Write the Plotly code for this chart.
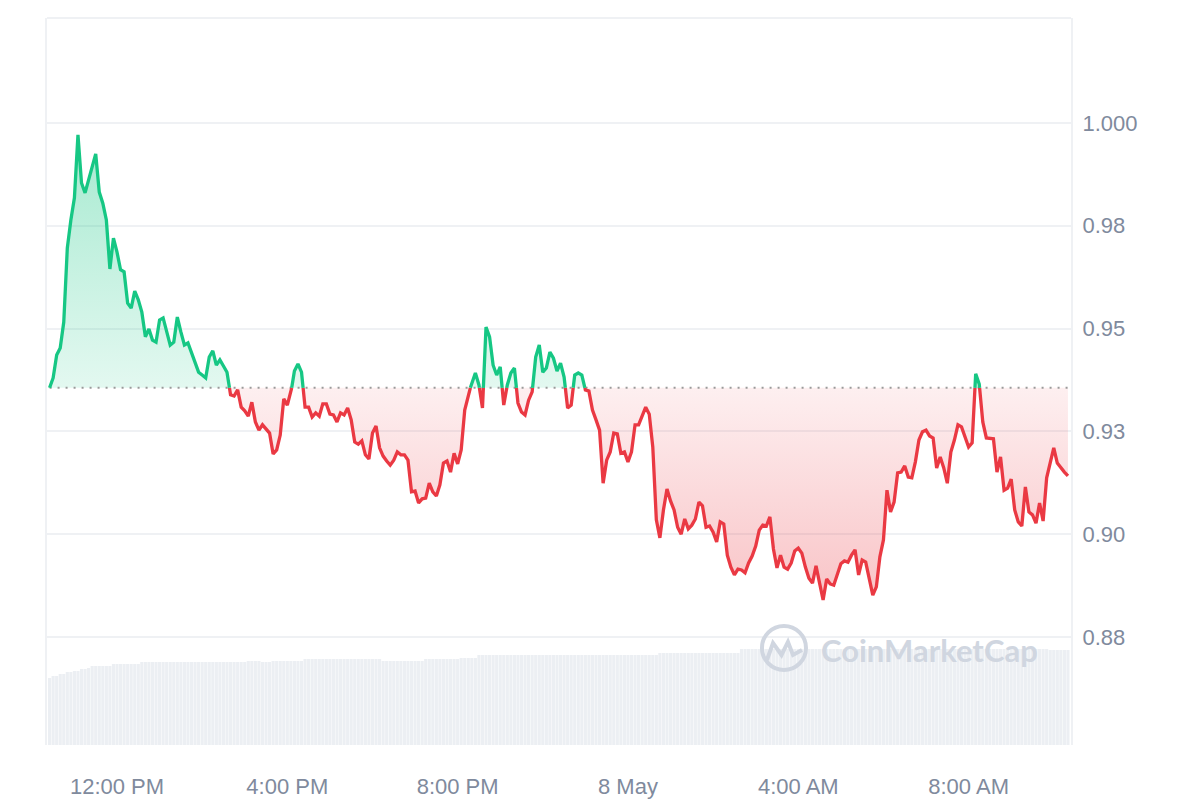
import numpy as np
import pandas as pd
import plotly.graph_objects as go

# 5-minute prices, 7 May 10:25 -> 8 May 10:20
price = [
    0.9356, 0.9380, 0.9436, 0.9453, 0.9516, 0.9696, 0.9764, 0.9818, 0.9971, 0.9854, 0.9830, 0.9861,
    0.9893, 0.9925, 0.9832, 0.9805, 0.9764, 0.9645, 0.9720, 0.9686, 0.9643, 0.9638, 0.9562, 0.9550,
    0.9591, 0.9570, 0.9540, 0.9480, 0.9499, 0.9472, 0.9467, 0.9521, 0.9526, 0.9492, 0.9460, 0.9467,
    0.9528, 0.9492, 0.9460, 0.9465, 0.9443, 0.9419, 0.9394, 0.9387, 0.9380, 0.9431, 0.9446, 0.9411,
    0.9424, 0.9409, 0.9394, 0.9339, 0.9336, 0.9351, 0.9309, 0.9300, 0.9287, 0.9321, 0.9273, 0.9253,
    0.9266, 0.9256, 0.9246, 0.9195, 0.9205, 0.9241, 0.9329, 0.9314, 0.9343, 0.9397, 0.9414, 0.9394,
    0.9309, 0.9309, 0.9285, 0.9295, 0.9287, 0.9317, 0.9317, 0.9292, 0.9290, 0.9273, 0.9295, 0.9290,
    0.9307, 0.9278, 0.9224, 0.9219, 0.9227, 0.9193, 0.9183, 0.9246, 0.9263, 0.9210, 0.9190, 0.9178,
    0.9168, 0.9180, 0.9200, 0.9193, 0.9193, 0.9180, 0.9103, 0.9105, 0.9076, 0.9086, 0.9088, 0.9124,
    0.9103, 0.9093, 0.9120, 0.9173, 0.9178, 0.9151, 0.9197, 0.9171, 0.9205, 0.9302, 0.9339, 0.9368,
    0.9392, 0.9363, 0.9307, 0.9504, 0.9480, 0.9411, 0.9387, 0.9407, 0.9314, 0.9363, 0.9392, 0.9404,
    0.9319, 0.9297, 0.9290, 0.9326, 0.9346, 0.9431, 0.9460, 0.9394, 0.9404, 0.9443, 0.9428, 0.9397,
    0.9416, 0.9382, 0.9307, 0.9314, 0.9387, 0.9392, 0.9387, 0.9351, 0.9348, 0.9302, 0.9278, 0.9253,
    0.9124, 0.9180, 0.9200, 0.9246, 0.9244, 0.9197, 0.9200, 0.9176, 0.9200, 0.9266, 0.9266, 0.9290,
    0.9309, 0.9292, 0.9212, 0.9035, 0.8991, 0.9059, 0.9110, 0.9081, 0.9059, 0.9017, 0.9000, 0.9037,
    0.9013, 0.9022, 0.9037, 0.9078, 0.9069, 0.9017, 0.9020, 0.9005, 0.8981, 0.9030, 0.9025, 0.8949,
    0.8920, 0.8901, 0.8915, 0.8913, 0.8906, 0.8930, 0.8947, 0.8971, 0.9010, 0.9022, 0.9020, 0.9042,
    0.8964, 0.8918, 0.8949, 0.8920, 0.8915, 0.8930, 0.8959, 0.8966, 0.8954, 0.8920, 0.8893, 0.8881,
    0.8923, 0.8881, 0.8840, 0.8891, 0.8879, 0.8876, 0.8901, 0.8928, 0.8935, 0.8932, 0.8949, 0.8962,
    0.8901, 0.8937, 0.8932, 0.8889, 0.8852, 0.8872, 0.8945, 0.8986, 0.9107, 0.9054, 0.9078, 0.9149,
    0.9151, 0.9166, 0.9139, 0.9137, 0.9176, 0.9229, 0.9249, 0.9253, 0.9239, 0.9234, 0.9161, 0.9188,
    0.9161, 0.9124, 0.9200, 0.9229, 0.9266, 0.9261, 0.9236, 0.9212, 0.9222, 0.9390, 0.9365, 0.9273,
    0.9234, 0.9234, 0.9232, 0.9151, 0.9188, 0.9107, 0.9112, 0.9134, 0.9059, 0.9030, 0.9020, 0.9115,
    0.9054, 0.9047, 0.9027, 0.9076, 0.9032, 0.9137, 0.9173, 0.9210, 0.9173, 0.9161, 0.9151, 0.9142,
]

# 24h volume ($M), same timestamps
volume = [
    6.7, 6.9, 6.9, 7.1, 7.1, 7.3, 7.3, 7.4, 7.4, 7.6, 7.6, 7.7,
    7.9, 7.9, 7.9, 7.9, 7.9, 7.9, 8.1, 8.1, 8.1, 8.1, 8.1, 8.1,
    8.1, 8.1, 8.3, 8.3, 8.3, 8.3, 8.3, 8.3, 8.3, 8.3, 8.3, 8.3,
    8.3, 8.3, 8.3, 8.3, 8.3, 8.3, 8.3, 8.3, 8.3, 8.3, 8.3, 8.3,
    8.3, 8.3, 8.3, 8.3, 8.3, 8.3, 8.3, 8.3, 8.4, 8.4, 8.4, 8.4,
    8.3, 8.3, 8.3, 8.4, 8.4, 8.4, 8.4, 8.4, 8.4, 8.4, 8.4, 8.4,
    8.6, 8.6, 8.6, 8.6, 8.6, 8.6, 8.6, 8.6, 8.6, 8.6, 8.6, 8.6,
    8.6, 8.6, 8.6, 8.6, 8.6, 8.6, 8.6, 8.6, 8.6, 8.6, 8.4, 8.4,
    8.4, 8.4, 8.4, 8.4, 8.4, 8.4, 8.4, 8.4, 8.4, 8.4, 8.6, 8.6,
    8.6, 8.6, 8.6, 8.6, 8.6, 8.6, 8.6, 8.6, 8.7, 8.7, 8.7, 8.7,
    8.7, 9.0, 9.0, 9.0, 9.0, 9.0, 9.0, 9.0, 9.0, 9.0, 9.0, 9.0,
    9.0, 9.0, 9.0, 9.0, 9.0, 9.0, 9.0, 9.0, 9.0, 9.0, 9.0, 9.0,
    9.0, 9.0, 9.0, 9.0, 9.0, 9.0, 9.0, 9.0, 9.0, 9.0, 9.0, 9.0,
    9.0, 9.0, 9.0, 9.0, 9.0, 9.0, 9.0, 9.0, 9.0, 9.0, 9.0, 9.0,
    9.0, 9.0, 9.0, 9.0, 9.2, 9.2, 9.2, 9.2, 9.2, 9.2, 9.2, 9.2,
    9.2, 9.2, 9.2, 9.2, 9.2, 9.2, 9.2, 9.2, 9.2, 9.2, 9.2, 9.2,
    9.2, 9.2, 9.2, 9.6, 9.6, 9.6, 9.6, 9.6, 9.6, 9.6, 9.6, 9.6,
    9.6, 9.6, 9.6, 9.6, 9.6, 9.6, 9.6, 9.6, 9.6, 9.6, 9.6, 9.6,
    9.6, 9.6, 9.6, 9.6, 9.6, 9.6, 9.6, 9.6, 9.6, 9.6, 9.6, 9.6,
    9.6, 9.6, 9.6, 9.6, 9.6, 9.6, 9.6, 9.6, 9.6, 9.6, 9.6, 9.6,
    9.6, 9.6, 9.6, 9.6, 9.6, 9.6, 9.6, 9.6, 9.6, 9.6, 9.6, 9.6,
    9.6, 9.6, 9.6, 9.6, 9.6, 9.6, 9.6, 9.6, 9.6, 9.6, 9.6, 9.6,
    9.6, 9.6, 9.6, 9.6, 9.6, 9.6, 9.6, 9.6, 9.6, 9.6, 9.6, 9.6,
    9.6, 9.6, 9.6, 9.6, 9.6, 9.6, 9.5, 9.5, 9.5, 9.5, 9.5, 9.5,
]

tick_times = ["2024-05-07 12:00", "2024-05-07 16:00", "2024-05-07 20:00",
              "2024-05-08 00:00", "2024-05-08 04:00", "2024-05-08 08:00"]
tick_labels = ["12:00 PM", "4:00 PM", "8:00 PM", "8 May", "4:00 AM", "8:00 AM"]
y_ticks = [0.875, 0.9, 0.925, 0.95, 0.975, 1.0]
y_tick_labels = ["0.88", "0.90", "0.93", "0.95", "0.98", "1.000"]

GREEN = "#16c784"
RED = "#ea3943"
GREY = "#808a9d"
FAINT = "#eff1f4"
FONT = "Liberation Sans, Arial, sans-serif"

times = pd.date_range("2024-05-07 10:25", periods=len(price), freq="5min")
base = price[0]


def split_at_base(ts, ys, level):
    # add a point wherever the line crosses the open price
    tn = ts.asi8.astype(float)
    xs, out = [tn[0]], [ys[0]]
    for i in range(1, len(ys)):
        a, b = ys[i - 1] - level, ys[i] - level
        if a * b < 0:
            f = a / (a - b)
            xs.append(tn[i - 1] + f * (tn[i] - tn[i - 1]))
            out.append(level)
        xs.append(tn[i])
        out.append(ys[i])
    return pd.to_datetime(np.array(xs).astype("int64")), np.array(out)


x_all, y_all = split_at_base(times, price, base)
y_up = np.maximum(y_all, base)
y_dn = np.minimum(y_all, base)
line_up = [v if v >= base else None for v in y_all]
line_dn = [v if v <= base else None for v in y_all]
base_line = [base] * len(x_all)

fig = go.Figure()

fig.add_trace(go.Bar(x=times, y=volume, yaxis="y2",
                     marker=dict(color="#eceff3", line_width=0), hoverinfo="skip"))

fig.add_trace(go.Scatter(x=x_all, y=base_line, mode="lines", line=dict(width=0), hoverinfo="skip"))
fig.add_trace(go.Scatter(
    x=x_all, y=y_up, mode="lines", line=dict(width=0), fill="tonexty",
    fillgradient=dict(type="vertical",
                      colorscale=[[0, "rgba(22,199,132,0.12)"], [1, "rgba(22,199,132,0.38)"]]),
    hoverinfo="skip"))
fig.add_trace(go.Scatter(x=x_all, y=base_line, mode="lines", line=dict(width=0), hoverinfo="skip"))
fig.add_trace(go.Scatter(
    x=x_all, y=y_dn, mode="lines", line=dict(width=0), fill="tonexty",
    fillgradient=dict(type="vertical",
                      colorscale=[[0, "rgba(234,57,67,0.30)"], [1, "rgba(234,57,67,0.08)"]]),
    hoverinfo="skip"))

fig.add_trace(go.Scatter(x=[x_all[0], x_all[-1]], y=[base, base], mode="lines",
                         line=dict(color="#9a9a9a", width=2, dash="2px,6px")))
fig.add_trace(go.Scatter(x=x_all, y=line_dn, mode="lines",
                         line=dict(color=RED, width=3.3)))
fig.add_trace(go.Scatter(x=x_all, y=line_up, mode="lines",
                         line=dict(color=GREEN, width=3.3)))

# page body has an 8px margin, so the figure is 8px smaller than the window
fig.update_layout(
    width=1192, height=792,
    margin=dict(l=39, r=129, t=10, b=55),
    plot_bgcolor="white", paper_bgcolor="white",
    showlegend=False, bargap=0.12,
    font=dict(family=FONT, color=GREY, size=22),
    xaxis=dict(type="date", range=["2024-05-07 10:21:22", "2024-05-08 10:24:18"],
               tickvals=tick_times, ticktext=tick_labels, showgrid=False,
               zeroline=False, showline=False, ticklabelstandoff=26, automargin=False,
               tickfont=dict(family=FONT, color=GREY, size=22)),
    yaxis=dict(range=[0.84874, 1.02553], side="right", tickvals=y_ticks,
               ticktext=y_tick_labels, gridcolor=FAINT, gridwidth=1.5,
               showline=True, mirror=True, linecolor=FAINT, linewidth=2,
               zeroline=False, ticklabelstandoff=5, automargin=False,
               tickfont=dict(family=FONT, color=GREY, size=22)),
    yaxis2=dict(overlaying="y", range=[0, 72.7], visible=False),
)

fig.add_shape(type="line", xref="paper", yref="paper", x0=0, x1=1, y0=1, y1=1,
              line=dict(color=FAINT, width=2))

# watermark
WM = "#d0d6e0"
fig.add_shape(type="circle", xref="paper", yref="paper",
              x0=0.6982, x1=0.7412, y0=0.1032, y1=0.1637, line=dict(color=WM, width=4))
fig.add_shape(type="path", xref="paper", yref="paper",
              path="M 0.7031 0.1169 L 0.7090 0.1403 L 0.7173 0.1238 L 0.7236 0.1417 "
                   "L 0.7285 0.1238 L 0.7373 0.1307",
              line=dict(color=WM, width=4))
fig.add_annotation(text="CoinMarketCap", xref="paper", yref="paper",
                   x=0.7540, y=0.1307, xanchor="left", yanchor="middle", showarrow=False,
                   font=dict(family="Lato", size=31, color=WM, weight="bold"))

fig.write_html("out.html")
